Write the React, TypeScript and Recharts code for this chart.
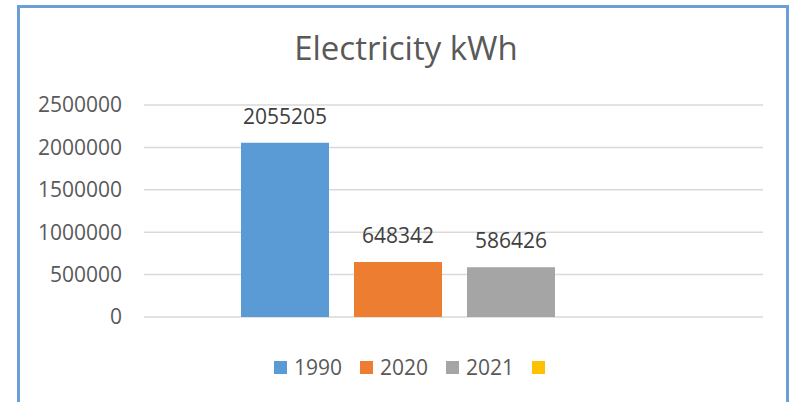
import React from "react";
import {
  BarChart,
  Bar,
  XAxis,
  YAxis,
  CartesianGrid,
  Legend,
  LabelList
} from "recharts";

const categories = ["Electricity kWh"];
const seriesNames = ["1990", "2020", "2021", ""];
const seriesColors = ["#5B9BD5", "#ED7D31", "#A5A5A5", "#FFC000"];
const values1990 = [2055205];
const values2020 = [648342];
const values2021 = [586426];
const valuesBlank: (number | null)[] = [null];
const yTicks = [0, 500000, 1000000, 1500000, 2000000, 2500000];

const seriesValues = [values1990, values2020, values2021, valuesBlank];
const keys = ["s0", "s1", "s2", "s3"];

const data = categories.map((c, i) => {
  const row: any = { name: c };
  keys.forEach((k, j) => {
    row[k] = seriesValues[j][i];
  });
  return row;
});

const font = "'Open Sans', sans-serif";

const LegendContent = () => (
  <div style={{ display: "flex", justifyContent: "center", gap: 18, fontFamily: font, fontSize: 21, color: "#595959" }}>
    {seriesNames.map((n, i) => (
      <div key={i} style={{ display: "flex", alignItems: "center" }}>
        <span style={{ width: 13, height: 13, background: seriesColors[i], display: "inline-block", marginRight: 7 }} />
        {n && <span>{n}</span>}
      </div>
    ))}
  </div>
);

export default function App() {
  return (
    <div style={{ position: "fixed", left: 0, top: 0, width: 794, height: 402, background: "#fff", overflow: "hidden" }}>
      <div
        style={{
          position: "absolute",
          left: 17,
          top: 5,
          width: 772,
          height: 440,
          border: "3px solid #6A9FD8",
          boxSizing: "border-box"
        }}
      />
      <div
        style={{
          position: "absolute",
          left: 0,
          width: 812,
          top: 25,
          textAlign: "center",
          fontFamily: font,
          fontSize: 33,
          color: "#595959"
        }}
      >
        Electricity kWh
      </div>
      <div style={{ position: "absolute", left: 0, top: 0 }}>
        <BarChart
          width={794}
          height={402}
          data={data}
          margin={{ top: 105, right: 31, bottom: 85, left: 24 }}
          barCategoryGap={97}
          barGap={25}
        >
          <CartesianGrid vertical={false} stroke="#D9D9D9" strokeWidth={1.5} />
          <XAxis dataKey="name" hide />
          <YAxis
            width={120}
            domain={[0, 2500000]}
            ticks={yTicks}
            axisLine={false}
            tickLine={false}
            tickMargin={16}
            interval={0}
            tick={{ fill: "#595959", fontSize: 21, fontFamily: font }}
          />
          <Legend
            layout="horizontal"
            verticalAlign="middle"
            align="center"
            content={<LegendContent />}
            wrapperStyle={{ top: 353, left: 16, width: 794 }}
          />
          {keys.map((k, i) => (
            <Bar key={k} dataKey={k} name={seriesNames[i]} fill={seriesColors[i]} isAnimationActive={false}>
              <LabelList
                dataKey={k}
                position="top"
                offset={19}
                style={{ fill: "#404040", fontSize: 21, fontFamily: font }}
              />
            </Bar>
          ))}
        </BarChart>
      </div>
    </div>
  );
}
